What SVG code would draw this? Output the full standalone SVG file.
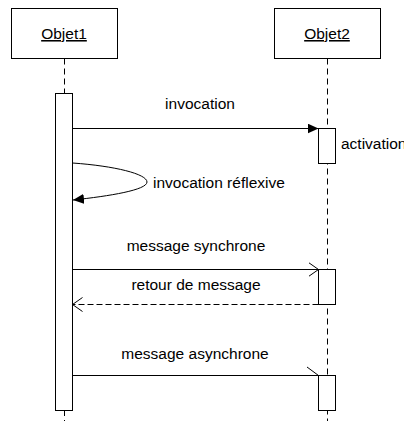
<svg xmlns="http://www.w3.org/2000/svg" width="404" height="421" viewBox="0 0 404 421">
<style>
.box{fill:#fff;stroke:#000;stroke-width:1}
.life{stroke:#000;stroke-width:1;stroke-dasharray:6 4;fill:none}
.msg{stroke:#000;stroke-width:1;fill:none}
.ret{stroke:#000;stroke-width:1;fill:none;stroke-dasharray:6 3}
text{font-family:"Liberation Sans",Arial,sans-serif;font-size:15.5px;fill:#000}
.t{text-anchor:middle}
</style>
<defs>
<marker id="filled" markerWidth="12" markerHeight="10" refX="11" refY="5" orient="auto" markerUnits="userSpaceOnUse">
<path d="M0,0 L11,5 L0,10 Z" fill="#000"/>
</marker>
<marker id="open" markerWidth="12" markerHeight="16" refX="10" refY="7.5" orient="auto" markerUnits="userSpaceOnUse">
<path d="M0,0.5 L10,7.5 L0,14.5" fill="none" stroke="#000" stroke-width="1"/>
</marker>
</defs>
<g id="objet1">
<rect class="box" x="11.5" y="8.5" width="106" height="50"/>
<text class="t" x="64" y="39" text-decoration="underline">Objet1</text>
<line class="life" x1="64.5" y1="58.5" x2="64.5" y2="93"/>
<line class="life" x1="64.5" y1="410" x2="64.5" y2="421"/>
<rect class="box" x="55.5" y="93.5" width="17" height="317"/>
</g>
<g id="objet2">
<rect class="box" x="274.5" y="8.5" width="106" height="50"/>
<text class="t" x="327" y="39" text-decoration="underline">Objet2</text>
<line class="life" x1="327.5" y1="58.5" x2="327.5" y2="421"/>
<rect class="box" x="318.5" y="128.5" width="17" height="35"/>
<rect class="box" x="318.5" y="269.5" width="17" height="35"/>
<rect class="box" x="318.5" y="375.5" width="17" height="35"/>
<text x="341" y="149">activation</text>
</g>
<g id="connectors">
<line class="msg" x1="72.5" y1="128.5" x2="318.5" y2="128.5" marker-end="url(#filled)"/>
<text class="t" x="200" y="109">invocation</text>
<path class="msg" d="M72.5,163 C115,166 147,174 147,182 C147,190 110,196 73,200" marker-end="url(#filled)"/>
<text x="153" y="188">invocation réflexive</text>
<line class="msg" x1="72.5" y1="269.5" x2="318.5" y2="269.5" marker-end="url(#open)"/>
<text class="t" x="196" y="251">message synchrone</text>
<line class="ret" x1="318.5" y1="304.5" x2="72.5" y2="304.5" marker-end="url(#open)"/>
<text class="t" x="196" y="290">retour de message</text>
<line class="msg" x1="72.5" y1="375.5" x2="318.5" y2="375.5"/>
<line class="msg" x1="307" y1="367" x2="318.5" y2="375.5"/>
<text class="t" x="195" y="359">message asynchrone</text>
</g>
</svg>
